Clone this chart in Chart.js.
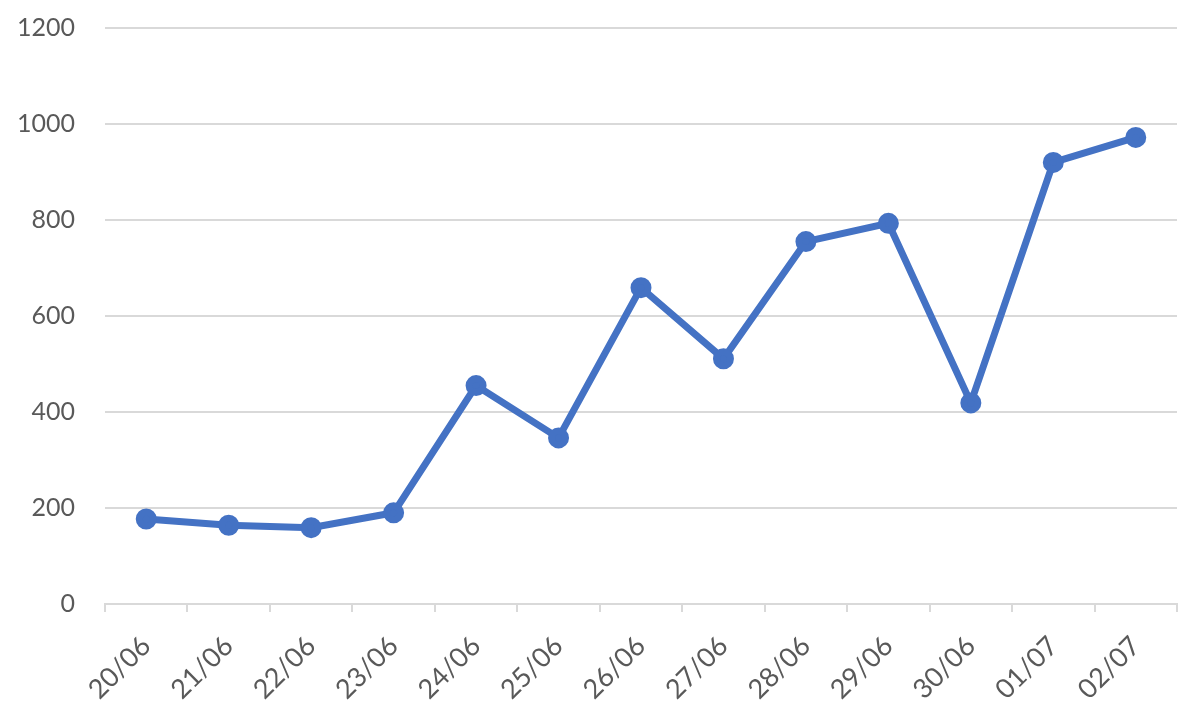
<!DOCTYPE html>
<html>
<head>
<meta charset="utf-8">
<script src="https://cdn.jsdelivr.net/npm/chart.js@4"></script>
<style>
  html, body { margin: 0; padding: 0; background: #fff; }
  #wrap { width: 1193px; height: 711px; }
</style>
</head>
<body>
<div id="wrap"><canvas id="lineChart" width="1193" height="711"></canvas></div>
<script>
const dates = ['20/06', '21/06', '22/06', '23/06', '24/06', '25/06', '26/06', '27/06', '28/06', '29/06', '30/06', '01/07', '02/07'];
const counts = [177, 164, 159, 190, 455, 346, 659, 511, 755, 793, 419, 920, 972];
const yTicks = [0, 200, 400, 600, 800, 1000, 1200];

document.addEventListener("DOMContentLoaded", function () {
    const ctx = document.getElementById('lineChart').getContext('2d');

    new Chart(ctx, {
        type: 'line',
        data: {
            labels: dates,
            datasets: [{
                data: counts,
                borderColor: '#4472C4',
                backgroundColor: '#4472C4',
                borderWidth: 7,
                pointRadius: 7,
                pointHoverRadius: 7,
                tension: 0
            }]
        },
        options: {
            responsive: false,
            animation: false,
            layout: { padding: { left: 0, right: 16, top: 0, bottom: 0 } },
            plugins: {
                legend: { display: false },
                tooltip: { enabled: false }
            },
            scales: {
                x: {
                    offset: true,
                    grid: {
                        offset: true,
                        drawOnChartArea: false,
                        drawTicks: true,
                        tickLength: 8,
                        color: '#d9d9d9',
                        lineWidth: 2
                    },
                    border: { color: '#d9d9d9', width: 2 },
                    ticks: {
                        color: '#595959',
                        font: { family: 'Lato, "Open Sans", sans-serif', size: 27 },
                        maxRotation: 45,
                        minRotation: 45,
                        padding: 18
                    },
                    afterFit: function (axis) { axis.height = 107; }
                },
                y: {
                    min: 0,
                    max: 1200,
                    afterBuildTicks: function (axis) {
                        axis.ticks = yTicks.map(v => ({ value: v }));
                    },
                    grid: {
                        color: '#d9d9d9',
                        lineWidth: 2,
                        drawTicks: false
                    },
                    border: { display: false },
                    ticks: {
                        color: '#595959',
                        font: { family: 'Lato, "Open Sans", sans-serif', size: 25 },
                        padding: 30,
                        callback: function (value) { return String(value); }
                    },
                    afterFit: function (axis) {
                        axis.width = 105;
                        axis.paddingTop = 28;
                    }
                }
            }
        }
    });
});
</script>
</body>
</html>
